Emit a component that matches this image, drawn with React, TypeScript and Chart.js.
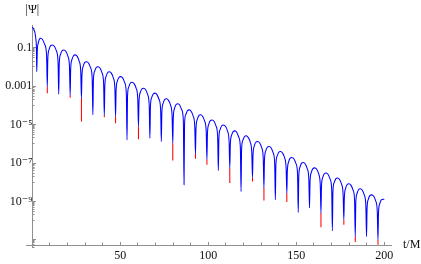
import React, { useEffect, useRef } from 'react';
import { Chart, registerables } from 'chart.js';

Chart.register(...registerables);

// |Psi|: times (t/M) and values
const T_BLUE = [
  0, 0.5, 1.0, 1.5, 2.0, 2.3,
  2.5, 2.8, 3.4, 4.0, 4.7, 5.8, 7.0, 8.1,
  8.5, 8.8, 9.5, 10.4, 11.4, 12.6, 13.7, 14.6,
  15.0, 15.3, 16.0, 16.9, 17.9, 19.1, 20.2, 21.1,
  21.5, 21.8, 22.5, 23.4, 24.4, 25.5, 26.6, 27.5,
  27.9, 28.2, 28.9, 29.8, 30.8, 32.0, 33.1, 34.0,
  34.4, 34.7, 35.4, 36.3, 37.3, 38.5, 39.6, 40.5,
  40.9, 41.2, 41.9, 42.8, 43.8, 44.9, 46.0, 46.9,
  47.3, 47.6, 48.3, 49.2, 50.2, 51.4, 52.5, 53.4,
  53.8, 54.1, 54.8, 55.7, 56.7, 57.9, 59.0, 59.9,
  60.3, 60.6, 61.3, 62.2, 63.2, 64.4, 65.5, 66.4,
  66.8, 67.1, 67.8, 68.7, 69.7, 70.9, 72.0, 72.9,
  73.3, 73.6, 74.3, 75.2, 76.2, 77.4, 78.5, 79.4,
  79.8, 80.1, 80.8, 81.7, 82.7, 83.8, 84.9, 85.8,
  86.2, 86.5, 87.2, 88.1, 89.1, 90.3, 91.4, 92.3,
  92.7, 93.0, 93.7, 94.6, 95.6, 96.8, 97.9, 98.8,
  99.2, 99.5, 100.2, 101.1, 102.1, 103.3, 104.4, 105.3,
  105.7, 106.0, 106.7, 107.6, 108.6, 109.8, 110.9, 111.8,
  112.2, 112.5, 113.2, 114.1, 115.1, 116.2, 117.3, 118.2,
  118.6, 118.9, 119.6, 120.5, 121.5, 122.7, 123.8, 124.7,
  125.1, 125.4, 126.1, 127.0, 128.0, 129.2, 130.3, 131.2,
  131.6, 131.9, 132.6, 133.5, 134.5, 135.7, 136.8, 137.7,
  138.1, 138.4, 139.1, 140.0, 141.0, 142.2, 143.3, 144.2,
  144.6, 144.9, 145.6, 146.5, 147.5, 148.7, 149.8, 150.7,
  151.1, 151.4, 152.1, 153.0, 154.0, 155.1, 156.2, 157.1,
  157.5, 157.8, 158.5, 159.4, 160.4, 161.6, 162.7, 163.6,
  164.0, 164.3, 165.0, 165.9, 166.9, 168.1, 169.2, 170.1,
  170.5, 170.8, 171.5, 172.4, 173.4, 174.6, 175.7, 176.6,
  177.0, 177.3, 178.0, 178.9, 179.9, 181.1, 182.2, 183.1,
  183.5, 183.8, 184.5, 185.4, 186.4, 187.5, 188.6, 189.5,
  189.9, 190.2, 190.9, 191.8, 192.8, 194.0, 195.1, 196.0,
  196.4, 196.7, 197.4, 198.3, 199.3, 200,
];

const PSI_BLUE = [
  1.15, 1.02, 0.80, 0.58, 0.28, 0.11,
  5.6e-3, 0.063, 0.178, 0.275, 0.31, 0.263, 0.148, 0.040,
  9.3e-4, 2.7e-2, 7.9e-2, 0.126, 0.138, 0.115, 6.6e-2, 1.9e-2,
  3.8e-4, 1.5e-2, 4.4e-2, 6.9e-2, 7.6e-2, 6.3e-2, 3.6e-2, 1.05e-2,
  3.3e-4, 8.1e-3, 2.4e-2, 3.8e-2, 4.2e-2, 3.5e-2, 2.0e-2, 5.8e-3,
  2.3e-4, 3.6e-3, 1.07e-2, 1.7e-2, 1.86e-2, 1.55e-2, 8.9e-3, 2.6e-3,
  3.2e-5, 2.0e-3, 5.9e-3, 9.3e-3, 1.02e-2, 8.5e-3, 4.9e-3, 1.4e-3,
  3.0e-5, 1.1e-3, 3.2e-3, 5.1e-3, 5.6e-3, 4.7e-3, 2.7e-3, 7.8e-4,
  2.6e-5, 6.0e-4, 1.8e-3, 2.8e-3, 3.1e-3, 2.6e-3, 1.5e-3, 4.3e-4,
  1.6e-6, 3.1e-4, 9.1e-4, 1.45e-3, 1.6e-3, 1.3e-3, 7.6e-4, 2.2e-4,
  7.9e-6, 1.5e-4, 4.5e-4, 7.1e-4, 7.8e-4, 6.5e-4, 3.7e-4, 1.07e-4,
  1.95e-6, 8.3e-5, 2.5e-4, 3.9e-4, 4.3e-4, 3.5e-4, 2.0e-4, 5.9e-5,
  1.3e-6, 4.3e-5, 1.26e-4, 2.0e-4, 2.2e-4, 1.8e-4, 1.05e-4, 3.0e-5,
  1.07e-6, 2.3e-5, 6.9e-5, 1.1e-4, 1.2e-4, 1.0e-4, 5.8e-5, 1.66e-5,
  7.4e-9, 1.12e-5, 3.3e-5, 5.2e-5, 5.8e-5, 4.8e-5, 2.75e-5, 7.9e-6,
  3.0e-7, 6.2e-6, 1.8e-5, 2.9e-5, 3.2e-5, 2.6e-5, 1.5e-5, 4.4e-6,
  1.5e-7, 3.4e-6, 1.0e-5, 1.6e-5, 1.74e-5, 1.45e-5, 8.3e-6, 2.4e-6,
  4.1e-8, 1.86e-6, 5.5e-6, 8.7e-6, 9.5e-6, 7.9e-6, 4.6e-6, 1.3e-6,
  5.5e-8, 9.1e-7, 2.7e-6, 4.3e-6, 4.7e-6, 3.9e-6, 2.2e-6, 6.5e-7,
  3.3e-9, 5.0e-7, 1.5e-6, 2.3e-6, 2.6e-6, 2.1e-6, 1.23e-6, 3.5e-7,
  1.7e-8, 2.6e-7, 7.6e-7, 1.2e-6, 1.3e-6, 1.1e-6, 6.3e-7, 1.8e-7,
  5.0e-9, 1.4e-7, 4.2e-7, 6.6e-7, 7.2e-7, 6.0e-7, 3.5e-7, 1.0e-7,
  1.23e-9, 7.8e-8, 2.3e-7, 3.6e-7, 4.0e-7, 3.3e-7, 1.9e-7, 5.5e-8,
  2.75e-9, 3.8e-8, 1.12e-7, 1.8e-7, 1.95e-7, 1.6e-7, 9.3e-8, 2.7e-8,
  2.7e-10, 2.1e-8, 6.2e-8, 9.8e-8, 1.07e-7, 8.9e-8, 5.1e-8, 1.5e-8,
  4.6e-10, 1.1e-8, 3.2e-8, 5.1e-8, 5.6e-8, 4.7e-8, 2.7e-8, 7.8e-9,
  2.5e-10, 5.9e-9, 1.74e-8, 2.75e-8, 3.0e-8, 2.5e-8, 1.45e-8, 4.2e-9,
  3.0e-11, 3.2e-9, 9.5e-9, 1.5e-8, 1.66e-8, 1.4e-8, 7.9e-9, 2.3e-9,
  1.12e-10, 1.6e-9, 4.8e-9, 7.6e-9, 8.3e-9, 6.9e-9, 4.0e-9, 1.15e-9,
  1.5e-11, 8.9e-10, 2.6e-9, 4.2e-9, 4.6e-9, 3.8e-9, 2.2e-9, 6.3e-10,
  1.5e-11, 4.4e-10, 1.3e-9, 2.0e-9, 2.2e-9, 1.86e-9, 1.07e-9, 3.1e-10,
  1.02e-11, 2.6e-10, 7.6e-10, 1.2e-9, 1.3e-9, 1.3e-9,
];

// red curve: only visible where its zeros dip deeper than the blue one
const RED_T = [8.5, 21.5, 27.9, 40.9, 47.3, 60.3, 79.8, 92.7, 99.2, 112.2, 125.1, 131.6, 144.6, 164.0, 177.0, 183.5, 196.4];
const RED_TOP = [9.3e-4, 3.3e-4, 2.3e-4, 3.0e-5, 2.6e-5, 7.9e-6, 1.07e-6, 3.0e-7, 1.5e-7, 5.5e-8, 1.7e-8, 5.0e-9, 2.75e-9, 2.5e-10, 1.12e-10, 1.5e-11, 1.02e-11];
const RED_BOTTOM = [4.3e-4, 2.5e-4, 1.45e-5, 2.4e-5, 1.17e-5, 1.74e-6, 1.35e-7, 1.66e-7, 8.1e-8, 9.1e-9, 1.1e-8, 1.12e-9, 9.3e-10, 4.5e-11, 6.2e-11, 7.8e-12, 5.6e-12];

// axes
const X_MIN = -3.6;
const X_MAX = 203.8;
const Y_MIN = 3.9e-12;
const Y_MAX = 1.5;
const X_AXIS_AT = 5.2e-12;
const X_MAJOR = [50, 100, 150, 200];
const X_LABELS = ['50', '100', '150', '200'];
const X_MINOR = [10, 20, 30, 40, 60, 70, 80, 90, 110, 120, 130, 140, 160, 170, 180, 190];
const Y_MAJOR = [1e-1, 1e-3, 1e-5, 1e-7, 1e-9, 1e-11];
const Y_LABELS = ['0.1', '0.001', '10\u207B\u2075', '10\u207B\u2077', '10\u207B\u2079', ''];
const Y_MINOR_DECADES = [1, 1e-2, 1e-4, 1e-6, 1e-8, 1e-10, 1e-12];
const Y_MINOR_STEPS = [1, 2, 3, 4, 5, 6, 7, 8, 9];
const X_TITLE = 't/M';
const Y_TITLE = '|\u03A8|';

const AXIS = '#8f8f8f';
const TEXT = '#111111';
const FONT = "'Liberation Serif', 'DejaVu Serif', serif";

const Y_MINOR: number[] = [];
Y_MINOR_DECADES.forEach((d) =>
  Y_MINOR_STEPS.forEach((m) => {
    const v = m * d;
    if (v >= Y_MIN && v <= Y_MAX) Y_MINOR.push(v);
  })
);

const axisTitles = {
  id: 'axisTitles',
  afterDraw(chart: any) {
    const { ctx, chartArea, scales } = chart;
    ctx.save();
    ctx.font = `12px ${FONT}`;
    ctx.fillStyle = TEXT;
    ctx.textBaseline = 'middle';
    ctx.textAlign = 'center';
    ctx.fillText(Y_TITLE, scales.x.getPixelForValue(0), chartArea.top - 15);
    ctx.textAlign = 'left';
    ctx.fillText(X_TITLE, chartArea.right + 12, scales.y.getPixelForValue(X_AXIS_AT) - 1);
    ctx.restore();
  },
};

export default function App() {
  const ref = useRef<HTMLCanvasElement>(null);

  useEffect(() => {
    document.body.style.margin = '0';
    const blue = T_BLUE.map((t, i) => ({ x: t, y: PSI_BLUE[i] }));
    const red: { x: number; y: number | null }[] = [];
    RED_T.forEach((t, i) => {
      red.push({ x: t, y: RED_TOP[i] }, { x: t, y: RED_BOTTOM[i] }, { x: t, y: null });
    });

    const chart = new Chart(ref.current as HTMLCanvasElement, {
      type: 'line',
      data: {
        datasets: [
          {
            data: blue,
            borderColor: '#0000ff',
            borderWidth: 1.05,
            pointRadius: 0,
            cubicInterpolationMode: 'monotone',
            fill: false,
            order: 0,
          },
          {
            data: red as any,
            borderColor: '#ff0000',
            borderWidth: 1.05,
            pointRadius: 0,
            tension: 0,
            fill: false,
            order: 1,
          },
        ],
      },
      options: {
        animation: false,
        responsive: false,
        events: [],
        layout: { padding: { left: 26, right: 30, top: 25, bottom: 16 } },
        plugins: { legend: { display: false }, tooltip: { enabled: false }, title: { display: false } },
        scales: {
          x: {
            type: 'linear',
            min: X_MIN,
            max: X_MAX,
            position: { y: X_AXIS_AT } as any,
            afterBuildTicks: (s: any) => {
              s.ticks = X_MAJOR.map((v) => ({ value: v }));
            },
            ticks: {
              autoSkip: false,
              maxRotation: 0,
              padding: 7,
              color: TEXT,
              font: { family: FONT, size: 12 },
              callback: (_v: any, i: number) => X_LABELS[i],
            },
            grid: { drawOnChartArea: false, tickLength: -4, color: AXIS, tickColor: AXIS },
            border: { display: true, color: AXIS, width: 1 },
          },
          xMinor: {
            axis: 'x',
            type: 'linear',
            min: X_MIN,
            max: X_MAX,
            position: { y: X_AXIS_AT } as any,
            afterBuildTicks: (s: any) => {
              s.ticks = X_MINOR.map((v) => ({ value: v }));
            },
            ticks: { display: false, autoSkip: false },
            grid: { drawOnChartArea: false, tickLength: -2.5, color: AXIS, tickColor: AXIS },
            border: { display: false },
          },
          y: {
            type: 'logarithmic',
            min: Y_MIN,
            max: Y_MAX,
            position: { x: 0 } as any,
            afterBuildTicks: (s: any) => {
              s.ticks = Y_MAJOR.map((v) => ({ value: v }));
            },
            ticks: {
              autoSkip: false,
              padding: 9,
              color: TEXT,
              font: { family: FONT, size: 12 },
              callback: (_v: any, i: number) => Y_LABELS[i],
            },
            grid: { drawOnChartArea: false, tickLength: -4, color: AXIS, tickColor: AXIS },
            border: { display: true, color: AXIS, width: 1 },
          },
          yMinor: {
            axis: 'y',
            type: 'logarithmic',
            min: Y_MIN,
            max: Y_MAX,
            position: { x: 0 } as any,
            afterBuildTicks: (s: any) => {
              s.ticks = Y_MINOR.map((v) => ({ value: v }));
            },
            ticks: { display: false, autoSkip: false },
            grid: { drawOnChartArea: false, tickLength: -2.5, color: AXIS, tickColor: AXIS },
            border: { display: false },
          },
        },
      } as any,
      plugins: [axisTitles],
    });
    return () => chart.destroy();
  }, []);

  return (
    <div style={{ width: 421, height: 264 }}>
      <canvas ref={ref} width={421} height={264} style={{ display: 'block' }} />
    </div>
  );
}
